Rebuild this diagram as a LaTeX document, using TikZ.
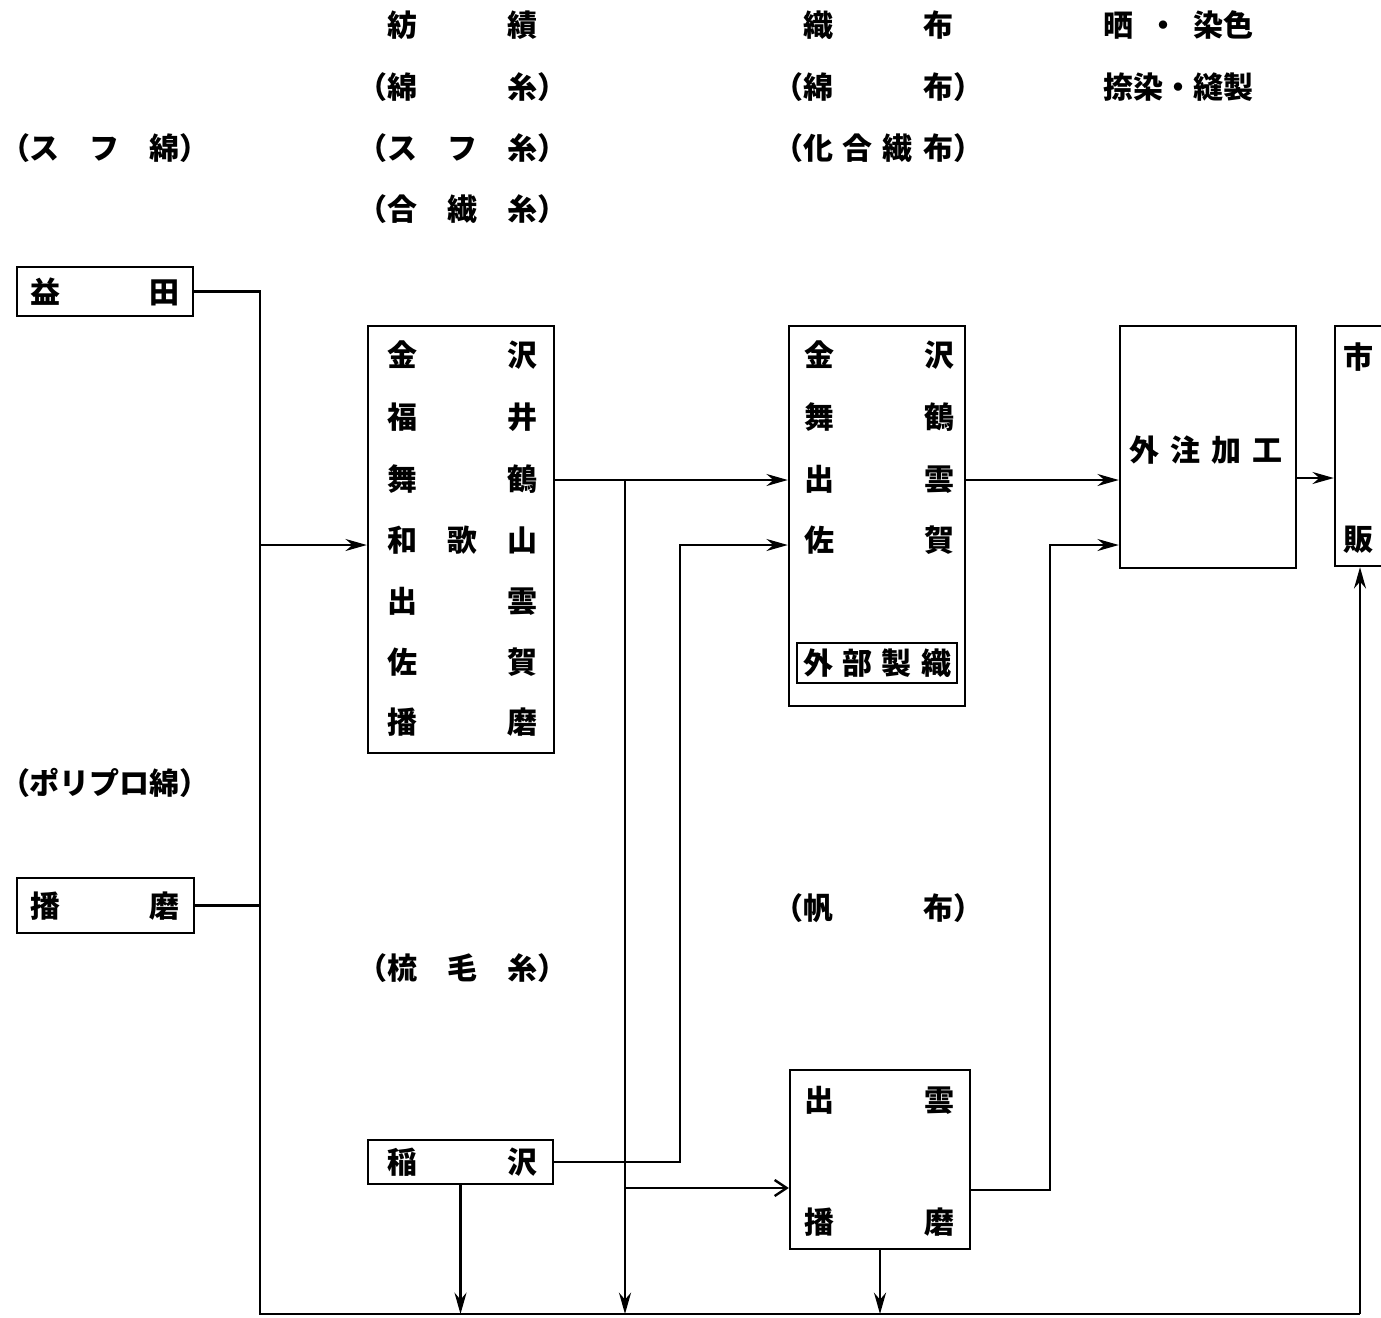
\documentclass[tikz,border=0pt]{standalone}
\usepackage{fontspec}
\setmainfont{Noto Sans CJK JP}
\usetikzlibrary{arrows.meta,fit,positioning,calc}
\newcommand\spreadtext[2]{\makebox[#1][s]{#2}}

\begin{document}
\begin{tikzpicture}[x=0.75pt,y=0.75pt,yscale=-1,xscale=1,
  lbl/.style={inner sep=0pt, font=\fontsize{22.5}{27}\selectfont\bfseries},
  box/.style={draw, line width=1.8pt, inner sep=0pt},
  link/.style={line width=1.8pt},
  arr/.style={link, -{Stealth[length=16pt,width=9pt]}},
  oarr/.style={link, -{Straight Barb[length=9pt,width=12pt]}}]
\clip (0,0) rectangle (1381,1317); %set diagram to the page size

% Header Text Nodes
\node[lbl] (hdSpin) at (462,25) {紡　　　績};
\node[lbl] (hdCotton) at (462,87) {（綿　　　糸）};
\node[lbl] (hdStaple) at (462,148) {（ス　フ　糸）};
\node[lbl] (hdSynth) at (462,209) {（合　繊　糸）};
\node[lbl] (hdWeave) at (878,25) {織　　　布};
\node[lbl] (hdCloth) at (878,87) {（綿　　　布）};
\node[lbl] (hdMixed) at (878,148) {\spreadtext{157.5pt}{（化\hfill 合\hfill 繊\hfill 布）}};
\node[lbl] (hdDye) at (1178,25) {\spreadtext{112.5pt}{晒\hfill ・\hfill 染色}};
\node[lbl] (hdSew) at (1178,87) {捺染・縫製};
\node[lbl] (hdFibre) at (105,148) {（ス　フ　綿）};
\node[lbl] (hdPoly) at (105,783) {（ポリプロ綿）};
\node[lbl] (hdWorst) at (462,968) {（梳　毛　糸）};
\node[lbl] (hdCanvas) at (878,908) {（帆　　　布）};

%Shape: Boxes
\path (17,267) coordinate (masA) (193,316) coordinate (masB);
\node[box, fit=(masA)(masB)] (masuda) {};
\path (17,878) coordinate (harA) (194,933) coordinate (harB);
\node[box, fit=(harA)(harB)] (harimaL) {};
\path (368,326) coordinate (spA) (554,753) coordinate (spB);
\node[box, fit=(spA)(spB)] (spin) {};
\path (789,326) coordinate (wvA) (965,706) coordinate (wvB);
\node[box, fit=(wvA)(wvB)] (weave) {};
\path (797,643) coordinate (exA) (957,683) coordinate (exB);
\node[box, fit=(exA)(exB)] (outside) {};
\path (1120,326) coordinate (gaA) (1296,568) coordinate (gaB);
\node[box, fit=(gaA)(gaB)] (gaichu) {};
\path (1335,326) coordinate (mkA) (1420,566) coordinate (mkB);
\node[box, fit=(mkA)(mkB)] (market) {};
\path (368,1140) coordinate (inA) (553,1184) coordinate (inB);
\node[box, fit=(inA)(inB)] (inazawa) {};
\path (790,1070) coordinate (caA) (970,1249) coordinate (caB);
\node[box, fit=(caA)(caB)] (canvas) {};

% Text Nodes in boxes
\node[lbl] (tMasuda) at (105,292) {益　　　田};
\node[lbl] (tHarimaL) at (105,906) {播　　　磨};
\node[lbl] (tSp1) at (462,355) {金　　　沢};
\node[lbl] (tSp2) at (462,417) {福　　　井};
\node[lbl] (tSp3) at (462,479) {舞　　　鶴};
\node[lbl] (tSp4) at (462,540) {和　歌　山};
\node[lbl] (tSp5) at (462,601) {出　　　雲};
\node[lbl] (tSp6) at (462,662) {佐　　　賀};
\node[lbl] (tSp7) at (462,722) {播　　　磨};
\node[lbl] (tWv1) at (879,355) {金　　　沢};
\node[lbl] (tWv2) at (879,417) {舞　　　鶴};
\node[lbl] (tWv3) at (879,479) {出　　　雲};
\node[lbl] (tWv4) at (879,540) {佐　　　賀};
\node[lbl] (tOutside) at (outside.center) {\spreadtext{111pt}{外\hfill 部\hfill 製\hfill 織}};
\node[lbl] (tGaichu) at (1206,450) {\spreadtext{114.75pt}{外\hfill 注\hfill 加\hfill 工}};
\node[lbl] (tMk1) at (1358,357) {市};
\node[lbl] (tMk2) at (1358,540) {販};
\node[lbl] (tInazawa) at (462,1162) {稲　　　沢};
\node[lbl] (tCa1) at (879,1100) {出　　　雲};
\node[lbl] (tCa2) at (879,1222) {播　　　磨};

% Junctions
\coordinate (jLeft) at (260,545);
\coordinate (jBotL) at (260,1314);
\coordinate (jBotR) at (1360,1314);
\coordinate (jMain) at (625,480);
\coordinate (jCanv) at (625,1188);
\coordinate (jSaga) at (680,545);
\coordinate (jRise) at (1050,1190);
\coordinate (jGai) at (1050,545);
\coordinate (jMkt) at (1315,478);

%Straight Lines
\draw[link] (masuda.east) -| (jBotL) -- (jBotR);
\draw[link] (harimaL.east) -- (harimaL.east -| jLeft);
\draw[arr] (jLeft) -- (spin.west |- jLeft);
\draw[arr] (jBotR) -- (market.south -| jBotR);
\draw[arr] (spin.east |- jMain) -- (weave.west |- jMain);
\draw[arr] (jMain) -- (jMain |- jBotL);
\draw[oarr] (jCanv) -- (canvas.west |- jCanv);
\draw[arr] (inazawa.east) -| (jSaga) -- (weave.west |- jSaga);
\draw[arr] (inazawa.south) -- (inazawa.south |- jBotL);
\draw[arr] (canvas.south) -- (canvas.south |- jBotL);
\draw[arr] (weave.east |- jMain) -- (gaichu.west |- jMain);
\draw[arr] (canvas.east |- jRise) -| (jGai) -- (gaichu.west |- jGai);
\draw[arr] (gaichu.east |- jMkt) -- (market.west |- jMkt);

\end{tikzpicture}
\end{document}
